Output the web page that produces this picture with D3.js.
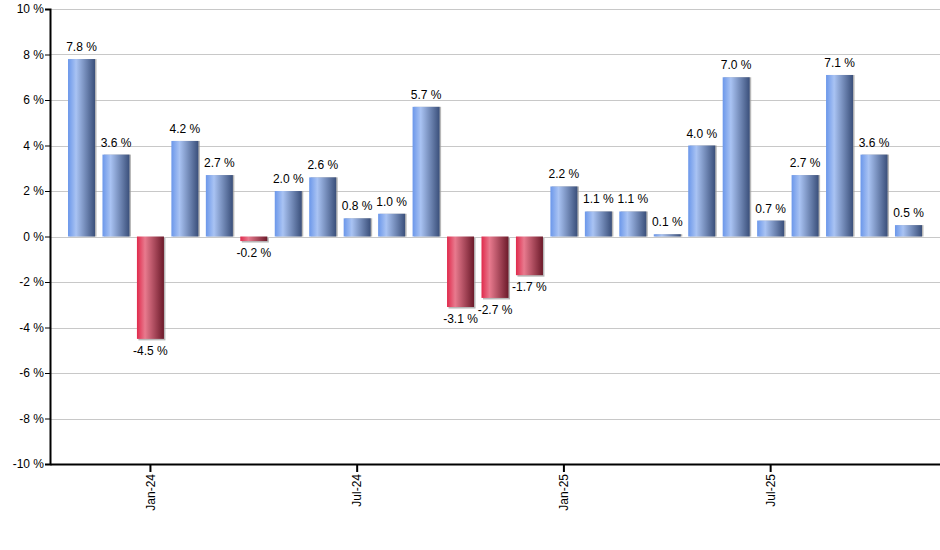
<!DOCTYPE html>
<html>
<head>
<meta charset="utf-8">
<script src="https://cdn.jsdelivr.net/npm/d3@7"></script>
<style>
  body { margin: 0; background: #fff; }
  text { font-family: "Liberation Sans", Arial, sans-serif; }
</style>
</head>
<body>
<div id="svg-container"></div>
<script>
// data
const months = ['Nov-23', 'Dec-23', 'Jan-24', 'Feb-24', 'Mar-24', 'Apr-24', 'May-24', 'Jun-24',
    'Jul-24', 'Aug-24', 'Sep-24', 'Oct-24', 'Nov-24', 'Dec-24', 'Jan-25', 'Feb-25', 'Mar-25',
    'Apr-25', 'May-25', 'Jun-25', 'Jul-25', 'Aug-25', 'Sep-25', 'Oct-25', 'Nov-25']
const returns = [7.8, 3.6, -4.5, 4.2, 2.7, -0.2, 2.0, 2.6, 0.8, 1.0, 5.7, -3.1, -2.7, -1.7,
    2.2, 1.1, 1.1, 0.1, 4.0, 7.0, 0.7, 2.7, 7.1, 3.6, 0.5]
const tickMonths = ['Jan-24', 'Jul-24', 'Jan-25', 'Jul-25']
const yTicks = [-10, -8, -6, -4, -2, 0, 2, 4, 6, 8, 10]

// dimensions
const dim = { width: 940, height: 550, margin: { top: 9, right: 0, bottom: 86, left: 50 } }
const innerW = dim.width - dim.margin.left - dim.margin.right
const innerH = dim.height - dim.margin.top - dim.margin.bottom

const svgRoot = d3.select('#svg-container')
    .append('svg')
        .attr('width', dim.width)
        .attr('height', dim.height)

// gradients
const defs = svgRoot.append('defs')
const grads = {
    pos: ['#6b97ea', '#a9c3f3', '#3a4f7a'],
    neg: ['#e02a4c', '#e87a8e', '#6c1a2a']
}
Object.entries(grads).forEach(([key, c]) => {
    const g = defs.append('linearGradient').attr('id', 'grad-' + key)
        .attr('x1', '0%').attr('x2', '100%').attr('y1', '0%').attr('y2', '0%')
    g.append('stop').attr('offset', '0%').attr('stop-color', c[0])
    g.append('stop').attr('offset', '30%').attr('stop-color', c[1])
    g.append('stop').attr('offset', '100%').attr('stop-color', c[2])
})

const svg = svgRoot.append('g')
    .attr('transform', `translate(${dim.margin.left}, ${dim.margin.top})`)

// scales
const xScale = d3.scaleBand()
    .domain(months)
    .range([0, innerW])
    .paddingInner(0.216)
    .paddingOuter(0.523)

const yScale = d3.scaleLinear()
    .domain([-10, 10])
    .range([innerH, 0])

const fmt = v => d3.format('.1f')(v).replace('\u2212', '-') + ' %'

// grid
svg.append('g')
    .selectAll('line')
    .data(yTicks.filter(d => d !== -10))
    .join('line')
        .attr('x1', 0)
        .attr('x2', innerW)
        .attr('y1', d => Math.round(yScale(d)) + 0.5)
        .attr('y2', d => Math.round(yScale(d)) + 0.5)
        .attr('stroke', '#c8c8c8')
        .attr('stroke-width', 1)

// bars
const bars = svg.append('g')
    .selectAll('g')
    .data(months.map((m, i) => ({ month: m, value: returns[i] })))
    .join('g')

// drop shadow
bars.append('rect')
    .attr('x', d => xScale(d.month) + 1.5)
    .attr('y', d => Math.min(yScale(d.value), yScale(0)) + (d.value < 0 ? 1.5 : 0))
    .attr('width', xScale.bandwidth())
    .attr('height', d => Math.abs(yScale(d.value) - yScale(0)))
    .attr('fill', '#9a9a9a')
    .attr('opacity', 0.7)

bars.append('rect')
    .attr('x', d => xScale(d.month))
    .attr('y', d => Math.min(yScale(d.value), yScale(0)))
    .attr('width', xScale.bandwidth())
    .attr('height', d => Math.abs(yScale(d.value) - yScale(0)))
    .attr('fill', d => d.value < 0 ? 'url(#grad-neg)' : 'url(#grad-pos)')

// value labels
bars.append('text')
    .attr('x', d => xScale(d.month) + xScale.bandwidth() / 2)
    .attr('y', d => d.value < 0 ? yScale(d.value) + 16 : yScale(d.value) - 8)
    .attr('text-anchor', 'middle')
    .attr('font-size', 12)
    .attr('fill', '#000')
    .text(d => fmt(d.value))

// axes
const yAxis = d3.axisLeft(yScale)
    .tickValues(yTicks)
    .tickSize(5)
    .tickFormat(d => d + ' %')

svg.append('g')
    .call(yAxis)
    .call(g => g.select('.domain').attr('stroke', '#000').attr('stroke-width', 2))
    .call(g => g.selectAll('.tick line').attr('stroke', '#000'))
    .call(g => g.selectAll('.tick text')
        .attr('font-size', 12)
        .attr('font-family', '"Liberation Sans", Arial, sans-serif')
        .attr('fill', '#000')
        .attr('x', -6))

const xAxis = d3.axisBottom(xScale)
    .tickValues(tickMonths)
    .tickSize(8)
    .tickSizeOuter(0)

svg.append('g')
    .attr('transform', `translate(0, ${innerH})`)
    .call(xAxis)
    .call(g => g.select('.domain').attr('stroke', '#000').attr('stroke-width', 2))
    .call(g => g.selectAll('.tick line').attr('stroke', '#000').attr('stroke-width', 2))
    .call(g => g.selectAll('.tick text')
        .attr('font-size', 12)
        .attr('font-family', '"Liberation Sans", Arial, sans-serif')
        .attr('fill', '#000')
        .attr('transform', 'rotate(-90)')
        .attr('text-anchor', 'end')
        .attr('x', -10)
        .attr('y', 0)
        .attr('dy', '0.35em'))
</script>
</body>
</html>
